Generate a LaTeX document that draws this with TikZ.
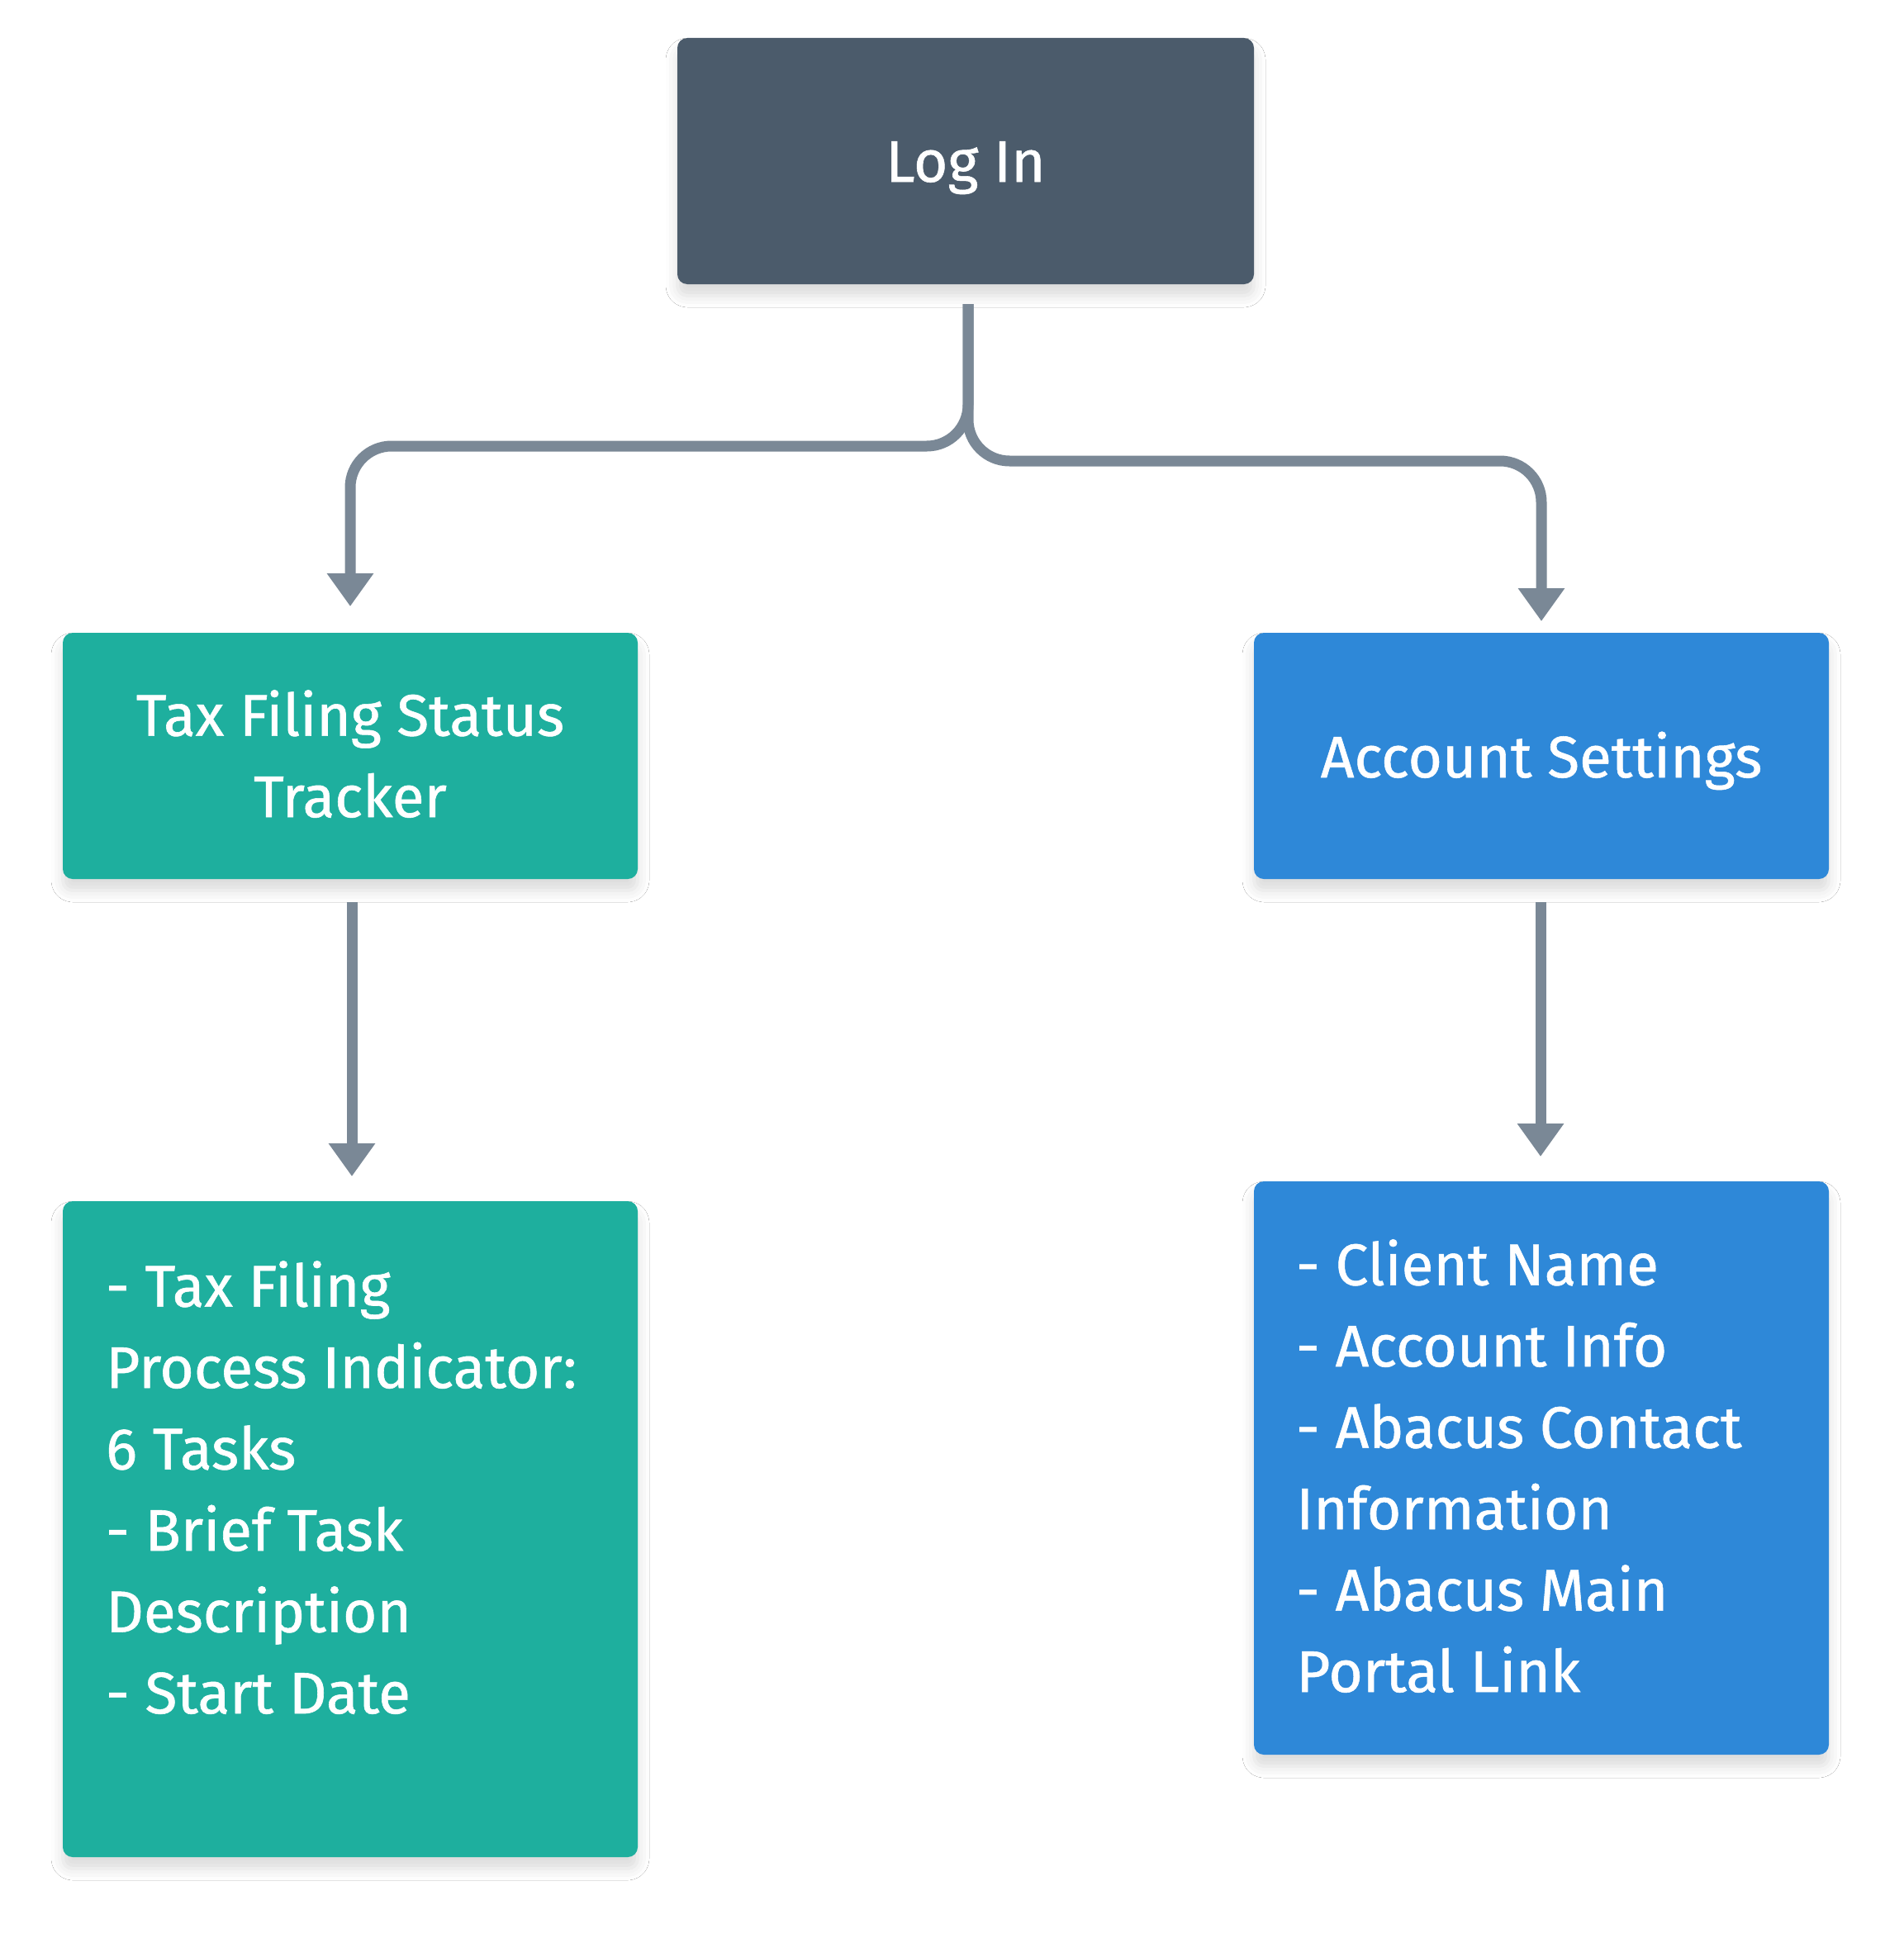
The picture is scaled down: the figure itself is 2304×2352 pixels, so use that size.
\documentclass[tikz,border=0pt]{standalone}
\usepackage{fontspec}
\setmainfont{Fira Sans}[FakeBold=0.8]
\usetikzlibrary{arrows.meta,shadows.blur}
\definecolor{loginc}{HTML}{4B5B6B}
\definecolor{tealc}{HTML}{1EAF9E}
\definecolor{bluec}{HTML}{2E88D8}
\definecolor{arrowc}{HTML}{7A8896}
\tikzset{
  box/.style={rounded corners=12pt, draw=none, inner sep=0pt,
    blur shadow={shadow xshift=0pt, shadow yshift=-14pt, shadow blur radius=14pt, shadow opacity=14}},
  lbl/.style={text=white, font=\fontsize{71}{98.5}\selectfont, inner sep=0pt},
  conn/.style={draw=arrowc, line width=13pt, rounded corners=50pt,
    -{Triangle[width=54pt,length=40pt]}}
}
\begin{document}
\begin{tikzpicture}[x=1pt,y=-1pt]
\useasboundingbox[fill=white] (0,0) rectangle (2304,2352);
% boxes
\path[box, fill=loginc] (820,46) rectangle (1518,344);
\path[box, fill=tealc] (76,766) rectangle (772,1064);
\path[box, fill=bluec] (1518,766) rectangle (2214,1064);
\path[box, fill=tealc] (76,1454) rectangle (772,2248);
\path[box, fill=bluec] (1518,1430) rectangle (2214,2124);
% labels
\node[lbl, anchor=base] (login) at (1169,220) {Log In};
\node[lbl, align=center, anchor=north] (tax) at (424,835) {Tax Filing Status\\Tracker};
\node[lbl, anchor=base] (acct) at (1866,941) {Account Settings};
\node[lbl, align=left, anchor=north west] (taxlist) at (128,1526)
  {- Tax Filing\\Process Indicator:\\6 Tasks\\- Brief Task\\Description\\- Start Date};
\node[lbl, align=left, anchor=north west] (acctlist) at (1569,1500)
  {- Client Name\\- Account Info\\- Abacus Contact\\Information\\- Abacus Main\\Portal Link};
% connector anchors
\coordinate (s0) at (1172,368);
\coordinate (tl) at (424,734);
\coordinate (tr) at (1866,752);
\coordinate (s1) at (426,1092);
\coordinate (e1) at (426,1424);
\coordinate (s2) at (1865,1092);
\coordinate (e2) at (1865,1400);
\draw[conn] (s0) -- (1172,540) -- (424,540) -- (tl);
\draw[conn] (s0) -- (1172,558) -- (1866,558) -- (tr);
\draw[conn, rounded corners=0pt] (s1) -- (e1);
\draw[conn, rounded corners=0pt] (s2) -- (e2);
\end{tikzpicture}
\end{document}
